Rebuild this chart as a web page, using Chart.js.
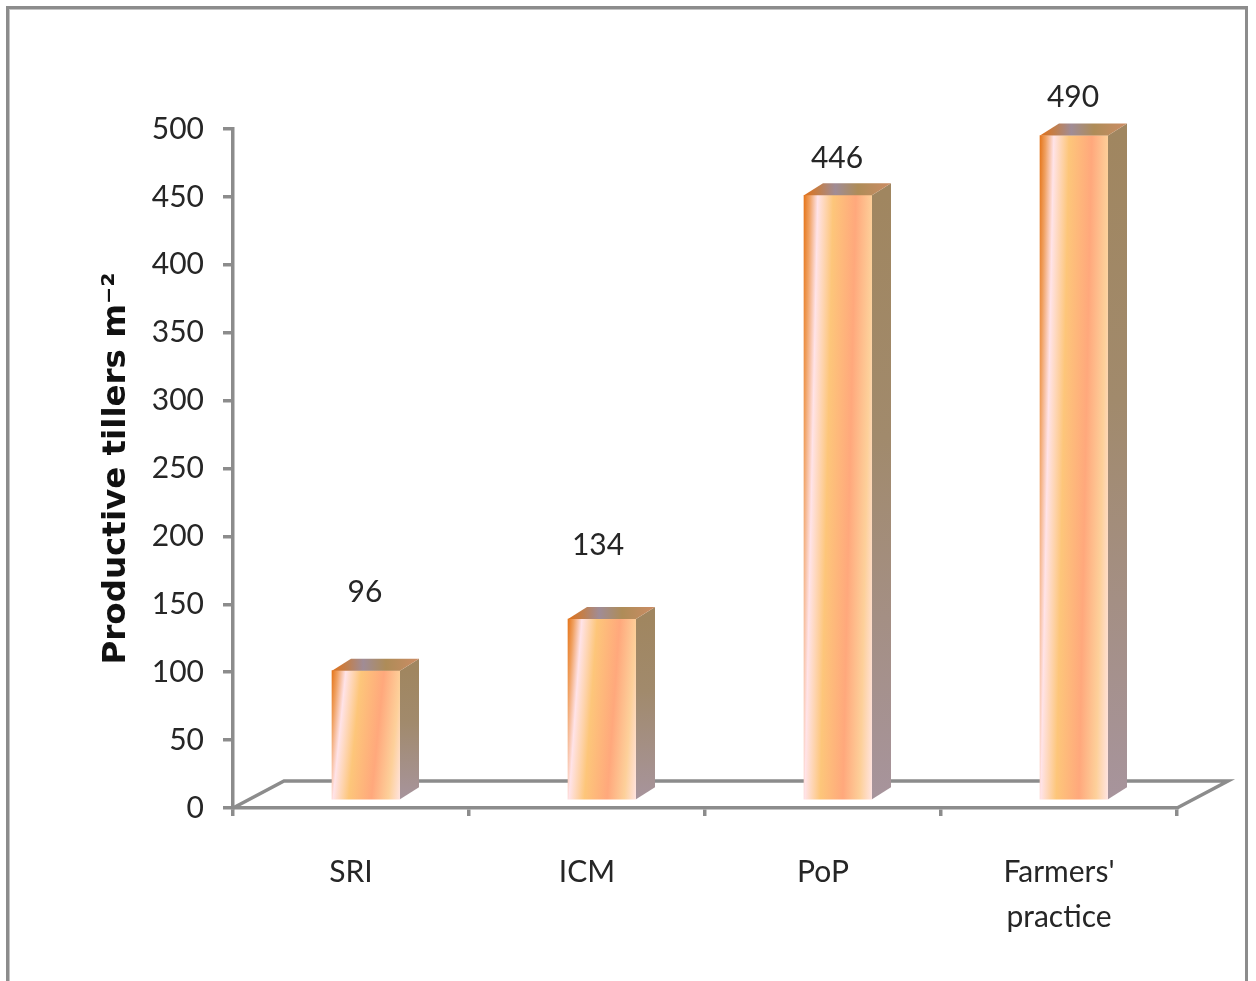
<!DOCTYPE html>
<html>
<head>
<meta charset="utf-8">
<title>Productive tillers</title>
<script src="https://cdn.jsdelivr.net/npm/chart.js@4"></script>
<style>
    html, body { margin: 0; padding: 0; background: #fff; overflow: hidden; }
    #cadre { position: absolute; left: 6px; top: 6px; width: 1236px; height: 975px;
             border: 3px solid #8c8c8c; border-bottom: none; box-shadow: inset 1px 1px 0 #c4c4c4; }
    #graphe { position: absolute; left: 0; top: 0; }
</style>
</head>
<body>
<div id="cadre"></div>
<canvas id="graphe" width="1256" height="981"></canvas>
<script>
const categories = ["SRI", "ICM", "PoP", ["Farmers'", "practice"]]
const tillers = [96, 134, 446, 490]
const yTicks = [0, 50, 100, 150, 200, 250, 300, 350, 400, 450, 500]

// space between the top of a bar and its value label
const labelLift = [78, 74, 37, 38]
const labelShift = [-1, -4, -1, -1]

const GREY = "#8c8c8c"
const TEXT = "#262626"
const LABEL_FONT = "Lato, sans-serif"
const LABEL_SIZE = 30
const LINE_W = 3.5

// the bars stand on the floor, a little behind the front edge and to the right
const SHIFT_X = 15
const SHIFT_Y = -7
const DEPTH_X = 19
const DEPTH_Y = -12
const FLOOR_X = 51
const FLOOR_Y = -27
const BAR_W = 68

function barFill(ctx, x, top, bottom) {
    const h = bottom - top
    const slant = 13
    const len = Math.sqrt(h * h + slant * slant)
    const span = BAR_W + slant
    const left = x - BAR_W / 2
    const g = ctx.createLinearGradient(left, top, left + span * h / len, top + span * slant / len)
    g.addColorStop(0, "#e5761c")
    g.addColorStop(0.07, "#f0a060")
    g.addColorStop(0.17, "#ffe3e8")
    g.addColorStop(0.36, "#fdc67a")
    g.addColorStop(0.64, "#ffa87c")
    g.addColorStop(0.85, "#fdd09a")
    g.addColorStop(1, "#ffe4e2")
    return g
}

const decor3d = {
    id: "decor3d",
    beforeDatasetsDraw(chart) {
        const ctx = chart.ctx
        const x = chart.scales.x
        const y0 = chart.scales.y.getPixelForValue(0)
        // floor outline
        ctx.save()
        ctx.strokeStyle = GREY
        ctx.lineWidth = LINE_W
        ctx.beginPath()
        ctx.moveTo(x.left, y0)
        ctx.lineTo(x.left + FLOOR_X, y0 + FLOOR_Y)
        ctx.lineTo(x.right + FLOOR_X, y0 + FLOOR_Y)
        ctx.lineTo(x.right, y0)
        ctx.stroke()
        ctx.restore()
        ctx.save()
        ctx.translate(SHIFT_X, SHIFT_Y)
    },
    afterDatasetsDraw(chart) {
        const ctx = chart.ctx
        ctx.restore()
        const bars = chart.getDatasetMeta(0).data
        bars.forEach((bar, i) => {
            const right = bar.x + SHIFT_X + BAR_W / 2
            const left = right - BAR_W
            const top = bar.y + SHIFT_Y
            const bottom = bar.base + SHIFT_Y

            // right side face
            const side = ctx.createLinearGradient(0, top, 0, bottom)
            side.addColorStop(0, "#a08660")
            side.addColorStop(0.4, "#a18a6c")
            side.addColorStop(1, "#a7949c")
            ctx.fillStyle = side
            ctx.beginPath()
            ctx.moveTo(right, top)
            ctx.lineTo(right + DEPTH_X, top + DEPTH_Y)
            ctx.lineTo(right + DEPTH_X, bottom + DEPTH_Y)
            ctx.lineTo(right, bottom)
            ctx.closePath()
            ctx.fill()

            // top face
            const cap = ctx.createLinearGradient(left, 0, right + DEPTH_X, 0)
            cap.addColorStop(0, "#e0701a")
            cap.addColorStop(0.18, "#c08050")
            cap.addColorStop(0.36, "#a08c96")
            cap.addColorStop(0.62, "#ae8c58")
            cap.addColorStop(1, "#cc8c64")
            ctx.fillStyle = cap
            ctx.beginPath()
            ctx.moveTo(left, top)
            ctx.lineTo(left + DEPTH_X, top + DEPTH_Y)
            ctx.lineTo(right + DEPTH_X, top + DEPTH_Y)
            ctx.lineTo(right, top)
            ctx.closePath()
            ctx.fill()

            // value label
            ctx.fillStyle = TEXT
            ctx.font = LABEL_SIZE + "px " + LABEL_FONT
            ctx.textAlign = "center"
            ctx.textBaseline = "middle"
            ctx.fillText(String(tillers[i]), bar.x + SHIFT_X + labelShift[i], top - labelLift[i])
        })
    }
}

const config = {
    type: "bar",
    data: {
        labels: categories,
        datasets: [
            {
                data: tillers,
                barThickness: BAR_W,
                borderWidth: 0,
                backgroundColor(c) {
                    const s = c.chart.scales
                    if (c.dataIndex === undefined || !s.y || !s.x) return "#fdc67a"
                    const x = s.x.getPixelForValue(c.dataIndex)
                    const top = s.y.getPixelForValue(tillers[c.dataIndex])
                    const bottom = s.y.getPixelForValue(0)
                    if (!Number.isFinite(x) || !Number.isFinite(top) || !Number.isFinite(bottom)) return "#fdc67a"
                    return barFill(c.chart.ctx, x, top, bottom)
                }
            }
        ]
    },
    options: {
        responsive: false,
        animation: false,
        layout: { padding: { left: 88, right: 79, top: 129, bottom: 0 } },
        plugins: {
            legend: { display: false },
            tooltip: { enabled: false },
            title: { display: false }
        },
        scales: {
            x: {
                grid: { drawOnChartArea: false, drawTicks: true, tickLength: 8, color: GREY, lineWidth: LINE_W },
                border: { color: GREY, width: LINE_W },
                ticks: {
                    color: TEXT,
                    padding: 34,
                    maxRotation: 0,
                    autoSkip: false,
                    font: { family: LABEL_FONT, size: LABEL_SIZE, lineHeight: 1.5 }
                },
                afterFit(scale) { scale.height = 173 }
            },
            y: {
                min: 0,
                max: 500,
                afterBuildTicks(scale) { scale.ticks = yTicks.map(v => ({ value: v })) },
                grid: { drawOnChartArea: false, drawTicks: true, tickLength: 10, color: GREY, lineWidth: LINE_W },
                border: { color: GREY, width: LINE_W },
                title: {
                    display: true,
                    text: "Productive tillers m⁻²",
                    color: "#111",
                    padding: { top: 9, bottom: 0 },
                    font: { family: "'DejaVu Sans', sans-serif", size: 32.5, weight: "bold" }
                },
                ticks: {
                    color: TEXT,
                    padding: 19,
                    font: { family: LABEL_FONT, size: LABEL_SIZE }
                },
                afterFit(scale) { scale.width = 145 }
            }
        }
    },
    plugins: [decor3d]
}

new Chart(document.getElementById("graphe"), config)
</script>
</body>
</html>
